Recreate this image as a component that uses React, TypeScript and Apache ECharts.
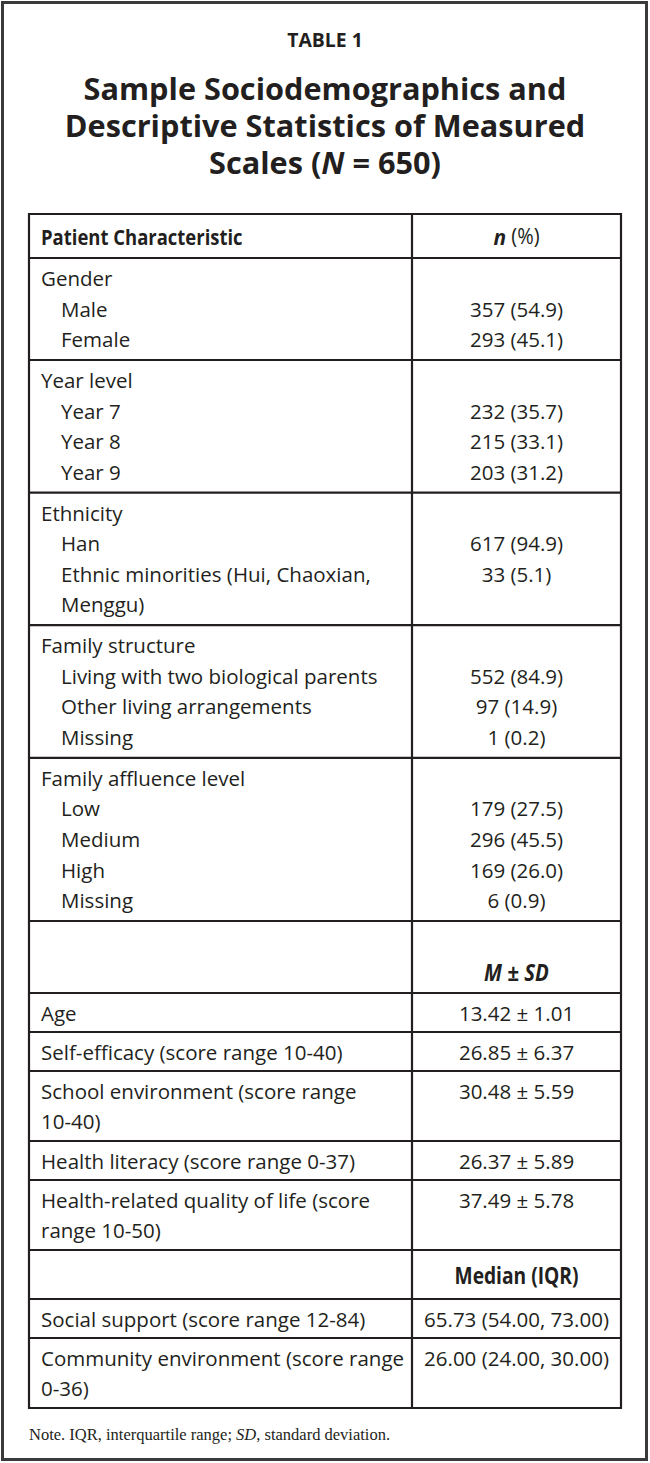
import React, { useEffect, useRef } from "react";
import * as echarts from "echarts";

const W = 650;
const H = 1463;

// ---------------- data ----------------
const tableLabel = "TABLE 1";
const titleLines = ["Sample Sociodemographics and", "Descriptive Statistics of Measured", "Scales ({i|N} = 650)"];
const headerLeft = "Patient Characteristic";
const headerRight = "{b|n} (%)";

const groupTitles = ["Gender", "Year level", "Ethnicity", "Family structure", "Family affluence level"];
const groupItems = [
  ["Male", "Female"],
  ["Year 7", "Year 8", "Year 9"],
  ["Han", "Ethnic minorities (Hui, Chaoxian,\nMenggu)"],
  ["Living with two biological parents", "Other living arrangements", "Missing"],
  ["Low", "Medium", "High", "Missing"],
];
const groupCounts = [
  [357, 293],
  [232, 215, 203],
  [617, 33],
  [552, 97, 1],
  [179, 296, 169, 6],
];
const groupPercents = [
  [54.9, 45.1],
  [35.7, 33.1, 31.2],
  [94.9, 5.1],
  [84.9, 14.9, 0.2],
  [27.5, 45.5, 26.0, 0.9],
];

const meanHeader = "M ± SD";
const meanLabels = [
  "Age",
  "Self-efficacy (score range 10-40)",
  "School environment (score range\n10-40)",
  "Health literacy (score range 0-37)",
  "Health-related quality of life (score\nrange 10-50)",
];
const means = [13.42, 26.85, 30.48, 26.37, 37.49];
const sds = [1.01, 6.37, 5.59, 5.89, 5.78];

const medianHeader = "Median (IQR)";
const medianLabels = ["Social support (score range 12-84)", "Community environment (score range\n0-36)"];
const medians = [65.73, 26.0];
const q1s = [54.0, 24.0];
const q3s = [73.0, 30.0];

const noteText = "Note. IQR, interquartile range; {i|SD}, standard deviation.";

// ---------------- layout / style ----------------
const INK = "#231f20";
const BODY = "'Open Sans', 'Noto Sans', sans-serif";
const SERIF = "'Liberation Serif', 'DejaVu Serif', serif";
const BODY_SIZE = 20.5;
const TL = 29;
const TR = 621;
const TD = 412;
const TTOP = 214;
const HEADER_H = 44;
const LINE = 30.6;
const PAD_TOP = 20;
const PAD_BOT = 20.8;
const INDENT = 20;
const CELL_PAD = 12;

function txt(x: number, y: number, text: string, extra: any = {}, elExtra: any = {}) {
  return {
    type: "text",
    x,
    y,
    silent: true,
    ...elExtra,
    style: {
      text,
      fill: INK,
      fontFamily: BODY,
      fontSize: BODY_SIZE,
      align: "left",
      verticalAlign: "middle",
      ...extra,
    },
  };
}

function buildElements() {
  const els: any[] = [];
  const hLines: number[] = [];
  const rightX = (TD + TR) / 2;

  // outer frame
  els.push({
    type: "rect",
    shape: { x: 2.5, y: 2.5, width: 644, height: 1457 },
    style: { fill: "none", stroke: "#3a3a3a", lineWidth: 3 },
  });

  // table label + title
  els.push(txt(W / 2, 40, tableLabel, { fontSize: 19, fontWeight: "bold", align: "center" }, { scaleX: 1.02 }));
  titleLines.forEach((t, i) => {
    els.push(
      txt(
        W / 2,
        88 + i * 37,
        t,
        {
          fontSize: 31,
          fontWeight: "bold",
          align: "center",
          rich: { i: { fontSize: 31, fontWeight: "bold", fontStyle: "italic", fontFamily: BODY, fill: INK } },
        },
        { scaleX: 0.99 }
      )
    );
  });

  // header row
  hLines.push(TTOP);
  els.push(txt(TL + CELL_PAD, TTOP + HEADER_H / 2, headerLeft, { fontSize: 22, fontWeight: "bold" }, { scaleX: 0.84 }));
  els.push(
    txt(rightX, TTOP + HEADER_H / 2, headerRight, {
      fontSize: 21,
      align: "center",
      rich: { b: { fontSize: 22, fontWeight: "bold", fontStyle: "italic", fontFamily: BODY, fill: INK } },
    }, { scaleX: 0.95 })
  );
  let y = TTOP + HEADER_H;
  hLines.push(y);

  // categorical groups
  groupTitles.forEach((title, g) => {
    let c = y + PAD_TOP;
    els.push(txt(TL + CELL_PAD, c, title));
    groupItems[g].forEach((item, k) => {
      c += LINE;
      const parts = item.split("\n");
      els.push(txt(rightX, c, `${groupCounts[g][k]} (${groupPercents[g][k].toFixed(1)})`, { align: "center" }));
      parts.forEach((p, j) => {
        if (j > 0) c += LINE;
        els.push(txt(TL + CELL_PAD + INDENT, c, p));
      });
    });
    y = c + PAD_BOT;
    hLines.push(y);
  });

  // M ± SD sub header
  {
    const h = 72;
    els.push(
      txt(rightX, y + h - 21, meanHeader, { fontSize: 24, fontWeight: "bold", fontStyle: "italic", align: "center" }, { scaleX: 0.85 })
    );
    y += h;
    hLines.push(y);
  }
  const statRow = (label: string, value: string) => {
    const parts = label.split("\n");
    parts.forEach((p, j) => els.push(txt(TL + CELL_PAD, y + 19.5 + j * LINE, p)));
    els.push(txt(rightX, y + 19.5, value, { align: "center" }));
    y += 39 + (parts.length - 1) * 31;
    hLines.push(y);
  };
  meanLabels.forEach((l, i) => statRow(l, `${means[i].toFixed(2)} ± ${sds[i].toFixed(2)}`));

  // Median (IQR) sub header
  {
    const h = 49;
    els.push(txt(rightX, y + 25, medianHeader, { fontSize: 24, fontWeight: "bold", align: "center" }, { scaleX: 0.8 }));
    y += h;
    hLines.push(y);
  }
  medianLabels.forEach((l, i) =>
    statRow(l, `${medians[i].toFixed(2)} (${q1s[i].toFixed(2)}, ${q3s[i].toFixed(2)})`)
  );

  const bottom = y;
  hLines.forEach((ly) => {
    els.push({ type: "line", shape: { x1: TL - 1, y1: ly, x2: TR + 1, y2: ly }, style: { stroke: INK, lineWidth: 2.2 } });
  });
  [TL, TD, TR].forEach((lx) => {
    els.push({ type: "line", shape: { x1: lx, y1: TTOP - 1, x2: lx, y2: bottom + 1 }, style: { stroke: INK, lineWidth: 2.2 } });
  });

  // note
  els.push(
    txt(TL, bottom + 26, noteText, {
      fontFamily: SERIF,
      fontSize: 16.5,
      rich: { i: { fontFamily: SERIF, fontSize: 16.5, fontStyle: "italic", fill: INK } },
    })
  );

  return els;
}

export default function App() {
  const ref = useRef<HTMLDivElement>(null);
  useEffect(() => {
    const chart = echarts.init(ref.current!, null, { renderer: "svg", width: W, height: H });
    chart.setOption({ animation: false, graphic: { elements: buildElements() } });
    return () => chart.dispose();
  }, []);
  return (
    <div
      ref={ref}
      style={{ position: "absolute", left: 0, top: 0, width: W, height: H, background: "#fff" }}
    />
  );
}
